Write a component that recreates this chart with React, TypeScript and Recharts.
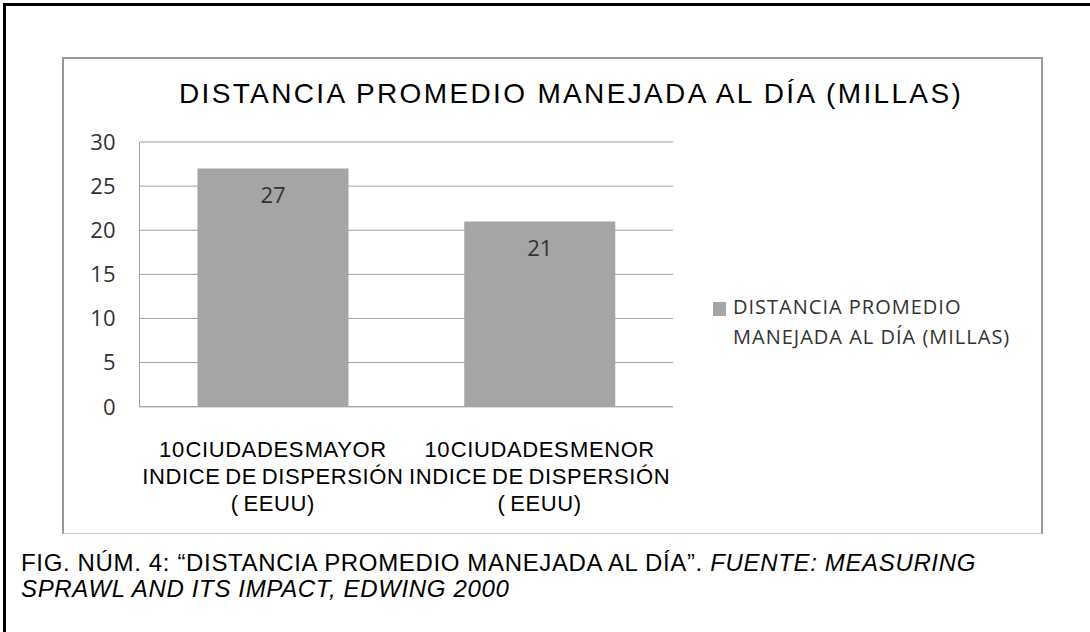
import { BarChart, Bar, XAxis, YAxis, CartesianGrid, LabelList, Legend } from "recharts";

// Two groups of US cities, average miles driven per day.
const categories = [
  "10 CIUDADES MAYOR\nINDICE DE DISPERSIÓN\n( EEUU)",
  "10 CIUDADES MENOR\nINDICE DE DISPERSIÓN\n( EEUU)",
];
const miles = [27, 21];
const yTicks = [0, 5, 10, 15, 20, 25, 30];
const seriesName = "DISTANCIA PROMEDIO MANEJADA AL DÍA (MILLAS)";

const data = categories.map((c, i) => ({ name: c, value: miles[i] }));

const BAR = "#a5a5a5";
const GRID = "#a0a0a0";
const CALIBRI = "'Open Sans', 'Liberation Sans', sans-serif";
const ARIAL = "'Liberation Sans', Arial, sans-serif";

function CategoryTick(props: any) {
  const { x, y, payload } = props;
  const lines = String(payload.value).split("\n");
  return (
    <text x={x} y={y} textAnchor="middle" fontFamily={ARIAL} fontSize={22} fill="#000" letterSpacing={0.6}>
      {lines.map((l, i) => (
        // the first line is set with the word gaps squeezed out, as in the source
        <tspan key={i} x={x} y={y + 50 + i * 27} style={i === 0 ? { wordSpacing: "-6px" } : { wordSpacing: "-2px" }}>
          {l}
        </tspan>
      ))}
    </text>
  );
}

function LegendBox(props: any) {
  const item = props.payload?.[0];
  if (!item) return null;
  return (
    <div style={{ display: "flex", alignItems: "flex-start", fontFamily: CALIBRI, fontSize: 20, lineHeight: "30px", color: "#333", letterSpacing: 1 }}>
      <span style={{ width: 13, height: 14, background: item.color, marginTop: 9.5, marginRight: 7, flex: "none" }} />
      <span style={{ width: 300 }}>{item.value}</span>
    </div>
  );
}

export default function App() {
  return (
    <div style={{ position: "absolute", left: 0, top: 0, width: 1090, height: 632, background: "#fff", overflow: "hidden" }}>
      {/* cropped page border: only top and left survive */}
      <div style={{ position: "absolute", left: 3, top: 3, width: 1100, height: 640, borderTop: "3px solid #000", borderLeft: "3px solid #000" }} />
      {/* chart frame */}
      <div
        style={{
          position: "absolute", left: 62, top: 57, width: 981, height: 477, boxSizing: "border-box",
          borderTop: "2px solid #9a9a9a", borderLeft: "2px solid #9a9a9a", borderRight: "2px solid #9a9a9a", borderBottom: "1px solid #c8c8c8",
        }}
      />
      <div style={{ position: "absolute", left: 179, top: 79.6, fontFamily: ARIAL, fontSize: 28, lineHeight: "28px", letterSpacing: 2.35, whiteSpace: "nowrap", color: "#000" }}>
        {seriesName}
      </div>

      <div style={{ position: "absolute", left: 0, top: 0 }}>
        <BarChart width={1090} height={632} data={data} margin={{ top: 142, right: 417, left: 79.5, bottom: 125.3 }}>
          <CartesianGrid vertical={false} stroke={GRID} />
          <XAxis dataKey="name" height={100} axisLine={{ stroke: GRID }} tickLine={false} tickSize={0} tickMargin={0} interval={0} tick={<CategoryTick />} />
          <YAxis
            width={60}
            domain={[0, 30]}
            ticks={yTicks}
            axisLine={{ stroke: GRID }}
            tickLine={false}
            tickSize={0}
            tickMargin={24}
            tick={{ fontFamily: CALIBRI, fontSize: 22, fill: "#333" }}
          />
          <Bar dataKey="value" name={seriesName} fill={BAR} barSize={151} isAnimationActive={false}>
            <LabelList dataKey="value" position="insideTop" offset={19} style={{ fontFamily: CALIBRI, fontSize: 22, fill: "#333" }} />
          </Bar>
          <Legend
            layout="vertical"
            align="center"
            verticalAlign="middle"
            content={<LegendBox />}
            wrapperStyle={{ position: "absolute", left: 713, top: 292.3, width: 330 }}
          />
        </BarChart>
      </div>

      <div style={{ position: "absolute", left: 21, top: 550, fontFamily: ARIAL, fontSize: 24, lineHeight: "26px", letterSpacing: 0.65, color: "#000", whiteSpace: "nowrap" }}>
        FIG. NÚM. 4: “DISTANCIA PROMEDIO MANEJADA AL DÍA”. <i>FUENTE: MEASURING</i>
        <br />
        <i>SPRAWL AND ITS IMPACT, EDWING 2000</i>
      </div>
    </div>
  );
}
